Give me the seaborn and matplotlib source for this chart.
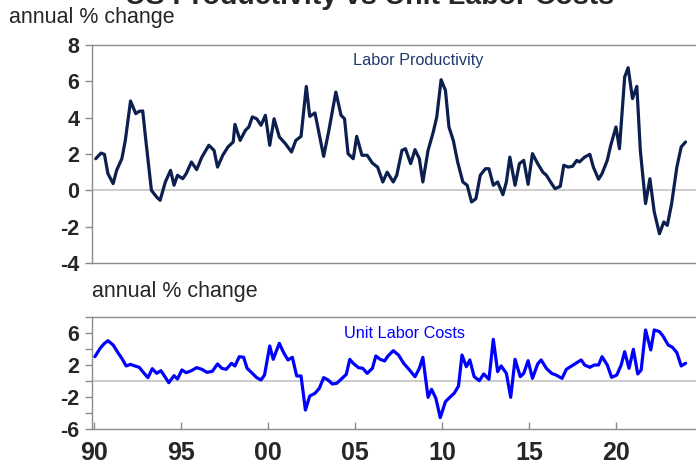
import matplotlib
matplotlib.use('Agg')
import matplotlib.pyplot as plt
import seaborn as sns
import pandas as pd

# ------------------------------------------------------------
# data (decimal year, annual % change)
# ------------------------------------------------------------
prod_year = [1990.1, 1990.4, 1990.6, 1990.8, 1991.1, 1991.3, 1991.6, 1991.8, 1992.1, 1992.4,
             1992.6, 1992.8, 1993.0, 1993.3, 1993.6, 1993.8, 1994.1, 1994.4, 1994.6, 1994.8,
             1995.1, 1995.3, 1995.6, 1995.9, 1996.2, 1996.6, 1996.9, 1997.1, 1997.4, 1997.7,
             1998.0, 1998.1, 1998.4, 1998.7, 1998.9, 1999.1, 1999.35, 1999.6, 1999.85, 2000.1,
             2000.35, 2000.65, 2001.0, 2001.35, 2001.6, 2001.9, 2002.2, 2002.4, 2002.7, 2002.9,
             2003.2, 2003.5, 2003.9, 2004.2, 2004.4, 2004.6, 2004.9, 2005.1, 2005.4, 2005.7,
             2006.0, 2006.3, 2006.6, 2006.85, 2007.2, 2007.4, 2007.7, 2007.9, 2008.2, 2008.45,
             2008.7, 2008.9, 2009.2, 2009.5, 2009.7, 2009.95, 2010.2, 2010.4, 2010.65, 2010.9,
             2011.2, 2011.45, 2011.7, 2011.95, 2012.2, 2012.5, 2012.7, 2012.95, 2013.2, 2013.5,
             2013.7, 2013.9, 2014.2, 2014.45, 2014.7, 2014.95, 2015.2, 2015.5, 2015.8, 2016.0,
             2016.3, 2016.5, 2016.8, 2017.0, 2017.25, 2017.5, 2017.75, 2017.9, 2018.2, 2018.5,
             2018.7, 2019.0, 2019.2, 2019.5, 2019.7, 2020.0, 2020.2, 2020.5, 2020.7, 2020.95,
             2021.2, 2021.4, 2021.7, 2021.95, 2022.2, 2022.5, 2022.75, 2022.95, 2023.2, 2023.5,
             2023.75, 2024.0]
prod_value = [1.74, 2.05, 1.98, 0.92, 0.37, 1.1, 1.74, 2.75, 4.92, 4.22,
              4.35, 4.37, 2.57, 0.0, -0.37, -0.55, 0.46, 1.1, 0.28, 0.83,
              0.64, 0.92, 1.56, 1.14, 1.83, 2.48, 2.2, 1.28, 1.93, 2.39,
              2.66, 3.63, 2.75, 3.3, 3.49, 4.04, 3.94, 3.58, 4.13, 2.48,
              3.94, 2.94, 2.57, 2.11, 2.75, 2.97, 5.72, 4.07, 4.26, 3.3,
              1.87, 3.3, 5.41, 4.13, 3.94, 2.02, 1.74, 2.97, 1.93, 1.93,
              1.5, 1.28, 0.46, 1.0, 0.46, 0.83, 2.2, 2.29, 1.47, 2.24,
              1.74, 0.46, 2.2, 3.21, 4.04, 6.09, 5.5, 3.49, 2.75, 1.56,
              0.46, 0.28, -0.64, -0.46, 0.83, 1.19, 1.19, 0.28, 0.46, -0.24,
              0.46, 1.83, 0.28, 1.47, 1.65, 0.33, 2.02, 1.47, 1.0, 0.83,
              0.37, 0.09, 0.22, 1.38, 1.28, 1.32, 1.65, 1.56, 1.83, 1.98,
              1.28, 0.61, 0.92, 1.65, 2.48, 3.49, 2.29, 6.24, 6.75, 5.05,
              5.72, 2.2, -0.73, 0.64, -1.19, -2.39, -1.74, -1.93, -0.73, 1.28,
              2.39, 2.66]

ulc_year = [1990.05, 1990.35, 1990.6, 1990.8, 1991.1, 1991.4, 1991.6, 1991.85, 1992.1, 1992.35,
            1992.6, 1992.85, 1993.1, 1993.35, 1993.6, 1993.85, 1994.1, 1994.3, 1994.6, 1994.8,
            1995.05, 1995.3, 1995.6, 1995.9, 1996.2, 1996.5, 1996.8, 1997.1, 1997.35, 1997.6,
            1997.9, 1998.1, 1998.35, 1998.6, 1998.8, 1999.1, 1999.35, 1999.6, 1999.8, 2000.1,
            2000.3, 2000.65, 2000.9, 2001.15, 2001.4, 2001.65, 2001.9, 2002.15, 2002.4, 2002.7,
            2002.95, 2003.2, 2003.45, 2003.7, 2003.95, 2004.2, 2004.5, 2004.7, 2004.9, 2005.2,
            2005.45, 2005.7, 2006.0, 2006.2, 2006.45, 2006.7, 2006.9, 2007.2, 2007.5, 2007.8,
            2008.1, 2008.45, 2008.7, 2008.9, 2009.2, 2009.4, 2009.65, 2009.9, 2010.2, 2010.45,
            2010.7, 2010.95, 2011.15, 2011.4, 2011.6, 2011.85, 2012.15, 2012.4, 2012.7, 2012.95,
            2013.2, 2013.4, 2013.7, 2013.95, 2014.2, 2014.5, 2014.7, 2014.95, 2015.2, 2015.5,
            2015.7, 2016.0, 2016.3, 2016.55, 2016.9, 2017.15, 2017.45, 2017.75, 2018.0, 2018.2,
            2018.5, 2018.75, 2019.0, 2019.2, 2019.5, 2019.75, 2020.05, 2020.3, 2020.5, 2020.75,
            2021.0, 2021.25, 2021.45, 2021.7, 2022.0, 2022.2, 2022.5, 2022.7, 2023.0, 2023.25,
            2023.5, 2023.75, 2024.0]
ulc_value = [3.04, 4.08, 4.7, 5.04, 4.5, 3.46, 2.83, 1.88, 2.08, 1.88,
             1.71, 1.04, 0.42, 1.54, 0.96, 1.29, 0.46, -0.21, 0.67, 0.25,
             1.38, 1.04, 1.29, 1.67, 1.46, 1.08, 1.21, 2.13, 1.58, 1.46,
             2.21, 1.88, 3.04, 2.96, 1.58, 0.96, 0.42, 0.13, 0.75, 4.38,
             2.71, 4.71, 3.54, 2.63, 2.96, 0.63, 0.63, -3.63, -1.88, -1.54,
             -0.92, 0.42, 0.13, -0.38, -0.29, 0.21, 0.83, 2.71, 2.21, 1.67,
             1.58, 0.96, 1.58, 3.13, 2.71, 2.5, 3.13, 3.79, 3.25, 2.21,
             1.46, 0.54, 1.58, 2.96, -2.04, -1.04, -2.17, -4.58, -2.58, -2.04,
             -1.54, -0.63, 3.25, 1.79, 2.63, 0.54, 0.04, 0.88, 0.21, 5.21,
             1.17, 1.88, 0.96, -2.04, 2.71, 0.54, 0.96, 2.54, 0.33, 2.13,
             2.63, 1.58, 0.96, 0.75, 0.33, 1.46, 1.88, 2.29, 2.63, 2.0,
             1.71, 2.0, 2.0, 3.04, 2.0, 0.46, 0.75, 2.0, 3.67, 1.58,
             3.96, 0.88, 1.38, 6.38, 3.88, 6.38, 6.17, 5.63, 4.5, 4.21,
             3.54, 1.88, 2.21]

x_ticks = [1990, 1995, 2000, 2005, 2010, 2015, 2020]
x_tick_labels = ['90', '95', '00', '05', '10', '15', '20']
top_yticks = [-4, -2, 0, 2, 4, 6, 8]
bot_yticks = [-6, -4, -2, 0, 2, 4, 6, 8]
bot_ytick_labels = ['-6', '', '-2', '', '2', '', '6', '']

prod_df = pd.DataFrame({'year': prod_year, 'value': prod_value})
ulc_df = pd.DataFrame({'year': ulc_year, 'value': ulc_value})

# ------------------------------------------------------------
# style
# ------------------------------------------------------------
sns.set_style('white')
plt.rcParams['font.family'] = ['Liberation Sans', 'DejaVu Sans']

NAVY = '#0c1f4e'
BLUE = '#0000ff'
SPINE = '#8c8c8c'
ZERO = '#c8c8c8'
XLIM = (1989.885, 2024.6)

fig = plt.figure(figsize=(6.96, 4.66), dpi=100)
ax1 = fig.add_axes([92 / 696, 203 / 466, 604 / 696, 218 / 466])
ax2 = fig.add_axes([92 / 696, 37 / 466, 604 / 696, 112 / 466])

# top panel - labor productivity
ax1.axhline(0, color=ZERO, lw=1.3, zorder=1)
sns.lineplot(data=prod_df, x='year', y='value', ax=ax1, color=NAVY, lw=2.3, zorder=3)
ax1.set_xlim(*XLIM)
ax1.set_ylim(-4, 8)
ax1.set_yticks(top_yticks)
ax1.set_yticklabels([str(v) for v in top_yticks], fontsize=15.5, fontweight='bold')
ax1.set_xticks([])
ax1.tick_params(axis='y', direction='out', length=5, width=1, color=SPINE, pad=4, left=True)
ax1.text(418, 466 - 60, 'Labor Productivity', transform=None, fontsize=11.7, color='#1f3a6e',
         ha='center', va='center')

# bottom panel - unit labor costs
ax2.axhline(0, color=ZERO, lw=1.3, zorder=1)
sns.lineplot(data=ulc_df, x='year', y='value', ax=ax2, color=BLUE, lw=2.3, zorder=3)
ax2.set_xlim(*XLIM)
ax2.set_ylim(-6, 8)
ax2.set_yticks(bot_yticks)
ax2.set_yticklabels(bot_ytick_labels, fontsize=15.5, fontweight='bold')
ax2.set_xticks(x_ticks)
ax2.set_xticklabels(x_tick_labels, fontsize=18, fontweight='bold')
ax2.tick_params(axis='y', direction='out', length=5, width=1, color=SPINE, pad=4, left=True)
ax2.tick_params(axis='x', direction='in', length=5, width=1, color=SPINE, pad=9, bottom=True)
ax2.text(404, 466 - 334, 'Unit Labor Costs', transform=None, fontsize=11.7, color=BLUE,
         ha='center', va='center')

for ax in (ax1, ax2):
    ax.set_xlabel('')
    ax.set_ylabel('')
    ax.spines['right'].set_visible(False)
    for s in ('left', 'top', 'bottom'):
        ax.spines[s].set_color(SPINE)
        ax.spines[s].set_linewidth(1.0)

# texts outside the axes (title is clipped by the top edge, as in the reference)
fig.text(9 / 696, 1 - 18 / 466, 'annual % change', fontsize=15.5, ha='left', va='center')
fig.text(92 / 696, 1 - 291 / 466, 'annual % change', fontsize=15.5, ha='left', va='center')
fig.text(370 / 696, 1 - 4 / 466, 'US Productivity vs Unit Labor Costs', fontsize=20.5,
         fontweight='bold', ha='center', va='baseline')

fig.savefig('out.png', dpi=100)
